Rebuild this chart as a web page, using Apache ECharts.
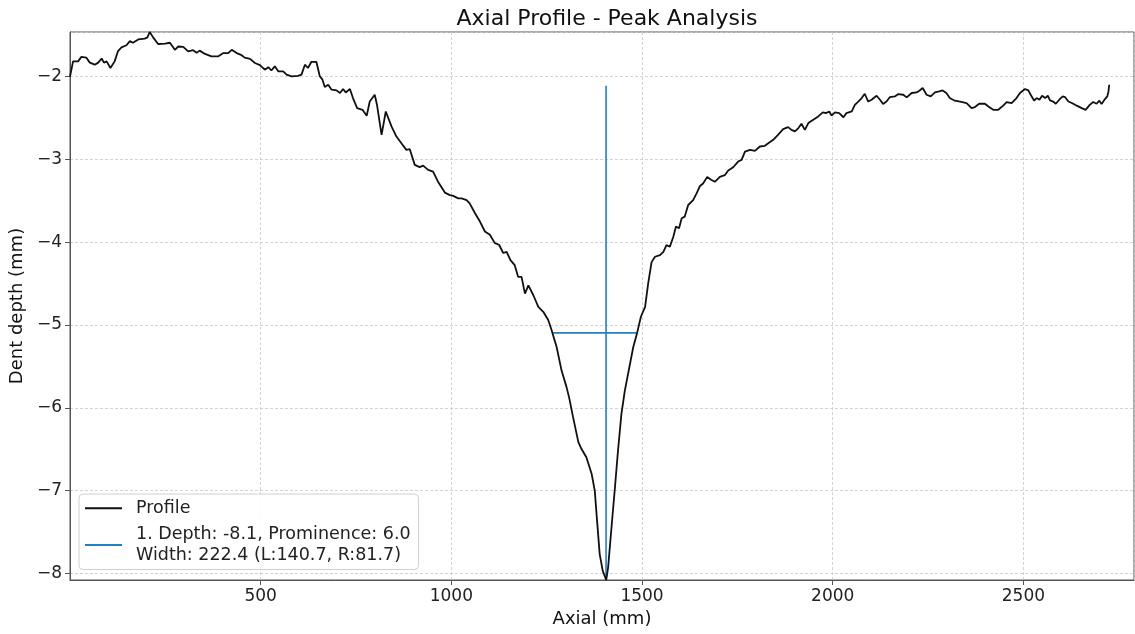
<!DOCTYPE html>
<html>
<head>
<meta charset="utf-8">
<script src="https://cdn.jsdelivr.net/npm/echarts@6/dist/echarts.min.js"></script>
<style>html,body{margin:0;padding:0;background:#fff;}#c{width:1135px;height:634px;}</style>
</head>
<body>
<div id="c"></div>
<script>
// Profile data (Axial mm, Dent depth mm)
const axial = [0,8,21,30,43,52,65,74,83,89,96,106,117,126,135,148,157,165,179,196,203,209,218,231,249,262,275,284,297,310,323,332,340,354,371,388,402,415,424,437,450,458,472,485,498,511,520,528,537,546,559,568,581,598,607,616,624,633,646,655,662,668,677,686,699,708,716,723,734,742,753,767,778,786,799,805,817,828,843,856,869,882,891,904,917,926,939,952,965,983,996,1005,1018,1027,1040,1048,1062,1075,1088,1101,1114,1125,1136,1145,1155,1166,1175,1184,1193,1202,1215,1228,1241,1254,1263,1265,1276,1289,1302,1309,1319,1333,1341,1354,1368,1376,1382,1389,1397,1406,1411,1420,1429,1437,1446,1455,1477,1487,1497,1508,1516,1525,1534,1547,1556,1564,1573,1582,1589,1597,1604,1612,1621,1634,1643,1652,1660,1671,1681,1691,1704,1717,1726,1739,1752,1761,1770,1783,1796,1809,1822,1831,1844,1857,1870,1883,1892,1901,1910,1918,1927,1936,1949,1962,1974,1982,1991,1997,2006,2017,2028,2036,2050,2058,2067,2076,2084,2093,2102,2115,2124,2132,2141,2150,2163,2172,2185,2194,2207,2220,2227,2236,2246,2257,2268,2279,2288,2298,2307,2320,2334,2351,2364,2373,2384,2399,2410,2421,2434,2447,2456,2469,2482,2491,2504,2513,2519,2528,2535,2542,2549,2557,2564,2570,2578,2585,2594,2603,2609,2618,2627,2640,2653,2663,2674,2683,2692,2699,2705,2714,2720,2723,2725];
const depth = [-2.0,-1.815,-1.815,-1.76,-1.77,-1.83,-1.855,-1.83,-1.78,-1.83,-1.815,-1.895,-1.815,-1.69,-1.645,-1.62,-1.57,-1.59,-1.55,-1.54,-1.525,-1.46,-1.525,-1.605,-1.6,-1.59,-1.675,-1.635,-1.64,-1.695,-1.68,-1.71,-1.685,-1.725,-1.755,-1.755,-1.715,-1.715,-1.675,-1.715,-1.74,-1.77,-1.785,-1.835,-1.86,-1.915,-1.885,-1.925,-1.875,-1.935,-1.935,-1.975,-1.995,-1.99,-1.975,-1.855,-1.895,-1.82,-1.82,-1.995,-2.036,-2.125,-2.097,-2.157,-2.165,-2.197,-2.149,-2.19,-2.149,-2.258,-2.379,-2.4,-2.472,-2.299,-2.218,-2.339,-2.702,-2.42,-2.6,-2.723,-2.803,-2.884,-2.876,-3.065,-3.093,-3.074,-3.126,-3.146,-3.268,-3.4,-3.43,-3.44,-3.47,-3.47,-3.49,-3.53,-3.65,-3.75,-3.87,-3.91,-4.01,-4.03,-4.13,-4.115,-4.215,-4.276,-4.418,-4.418,-4.62,-4.52,-4.64,-4.78,-4.84,-4.94,-5.063,-5.095,-5.265,-5.55,-5.75,-5.88,-6.11,-6.415,-6.495,-6.597,-6.8,-7.0,-7.36,-7.77,-7.97,-8.08,-7.93,-7.44,-6.96,-6.516,-6.07,-5.79,-5.265,-5.095,-4.9,-4.78,-4.5,-4.24,-4.175,-4.155,-4.115,-4.035,-4.055,-3.933,-3.81,-3.83,-3.71,-3.69,-3.55,-3.49,-3.41,-3.32,-3.29,-3.21,-3.245,-3.27,-3.21,-3.19,-3.134,-3.094,-3.025,-3.005,-2.904,-2.884,-2.896,-2.843,-2.835,-2.803,-2.763,-2.7,-2.633,-2.609,-2.642,-2.66,-2.62,-2.569,-2.642,-2.56,-2.52,-2.48,-2.43,-2.44,-2.42,-2.47,-2.43,-2.44,-2.49,-2.44,-2.42,-2.34,-2.3,-2.258,-2.206,-2.3,-2.278,-2.23,-2.278,-2.33,-2.3,-2.246,-2.238,-2.21,-2.218,-2.25,-2.197,-2.19,-2.17,-2.137,-2.218,-2.238,-2.19,-2.178,-2.166,-2.197,-2.258,-2.29,-2.3,-2.318,-2.379,-2.367,-2.327,-2.327,-2.367,-2.4,-2.4,-2.35,-2.306,-2.318,-2.258,-2.197,-2.149,-2.166,-2.218,-2.287,-2.258,-2.278,-2.23,-2.258,-2.23,-2.287,-2.3,-2.327,-2.278,-2.238,-2.246,-2.3,-2.318,-2.35,-2.379,-2.4,-2.34,-2.306,-2.327,-2.29,-2.33,-2.27,-2.238,-2.178,-2.097];

// Peak analysis values
const peakX = 1405.6;
const peakDepth = -8.08;
const prominence = 5.97;
const widthHeight = -5.095;
const leftIps = 1264.9;
const rightIps = 1487.3;

const xTicks = [500, 1000, 1500, 2000, 2500];
const yTicks = [-8, -7, -6, -5, -4, -3, -2];

const profileName = 'Profile';
const peakName = '1. Depth: -8.1, Prominence: 6.0\nWidth: 222.4 (L:140.7, R:81.7)';

const profile = axial.map((x, i) => [x, depth[i]]);
const vline = [[peakX, peakDepth], [peakX, peakDepth + prominence]];
const hline = [[leftIps, widthHeight], [rightIps, widthHeight]];

const FONT = 'DejaVu Sans';
const chart = echarts.init(document.getElementById('c'), null, {renderer: 'canvas'});
chart.setOption({
  animation: false,
  backgroundColor: '#fff',
  textStyle: {fontFamily: FONT},
  title: {
    text: 'Axial Profile - Peak Analysis',
    left: 602, textAlign: 'center', top: 3,
    textStyle: {fontFamily: FONT, fontSize: 22, fontWeight: 'normal', color: '#111'}
  },
  grid: {left: 70, right: 1, top: 32, bottom: 54, show: true, borderColor: '#555', borderWidth: 1},
  xAxis: {
    type: 'value', min: 0, max: 2790, interval: 500,
    name: 'Axial (mm)', nameLocation: 'middle', nameGap: 30,
    nameTextStyle: {fontFamily: FONT, fontSize: 18, color: '#111'},
    axisLine: {show: true, lineStyle: {color: '#555'}},
    axisTick: {show: true, inside: false, length: 5, lineStyle: {color: '#555'}},
    axisLabel: {fontFamily: FONT, fontSize: 17, color: '#222', margin: 8,
      showMinLabel: false, showMaxLabel: false,
      formatter: v => xTicks.includes(v) ? String(v) : ''},
    splitLine: {show: true, lineStyle: {color: '#c8c8c8', type: [3, 2], width: 0.8}}
  },
  yAxis: {
    type: 'value', min: -8.08, max: -1.46, splitNumber: 5,
    name: 'Dent depth (mm)', nameLocation: 'middle', nameGap: 44,
    nameTextStyle: {fontFamily: FONT, fontSize: 18, color: '#111'},
    axisLine: {show: true, lineStyle: {color: '#555'}},
    axisTick: {show: true, inside: false, length: 5, lineStyle: {color: '#555'}},
    axisLabel: {fontFamily: FONT, fontSize: 17, color: '#222', margin: 8,
      showMinLabel: false, showMaxLabel: false,
      formatter: v => yTicks.includes(v) ? String(v).replace('-', '\u2212') : ''},
    splitLine: {show: true, lineStyle: {color: '#c8c8c8', type: [3, 2], width: 0.8}}
  },
  legend: {
    orient: 'vertical', left: 79, top: 494,
    data: [profileName, peakName],
    icon: 'rect', itemWidth: 37, itemHeight: 2, itemGap: 6,
    padding: [4, 8, 4, 6],
    backgroundColor: 'rgba(255,255,255,0.85)', borderColor: '#d0d0d0', borderWidth: 1, borderRadius: 4,
    textStyle: {fontFamily: FONT, fontSize: 17.5, color: '#222', lineHeight: 20.5, padding: [0, 0, 0, 9]}
  },
  series: [
    {name: profileName, type: 'line', data: profile, showSymbol: false, symbol: 'none',
     lineStyle: {color: '#111', width: 1.8}, itemStyle: {color: '#111'}, z: 3},
    {name: peakName, type: 'line', data: vline, showSymbol: false, symbol: 'none',
     lineStyle: {color: '#1f80c4', width: 1.6}, itemStyle: {color: '#1f80c4'}, z: 2},
    {name: 'width', type: 'line', data: hline, showSymbol: false, symbol: 'none',
     lineStyle: {color: '#1f80c4', width: 1.6}, itemStyle: {color: '#1f80c4'}, z: 2}
  ]
});
</script>
</body>
</html>
